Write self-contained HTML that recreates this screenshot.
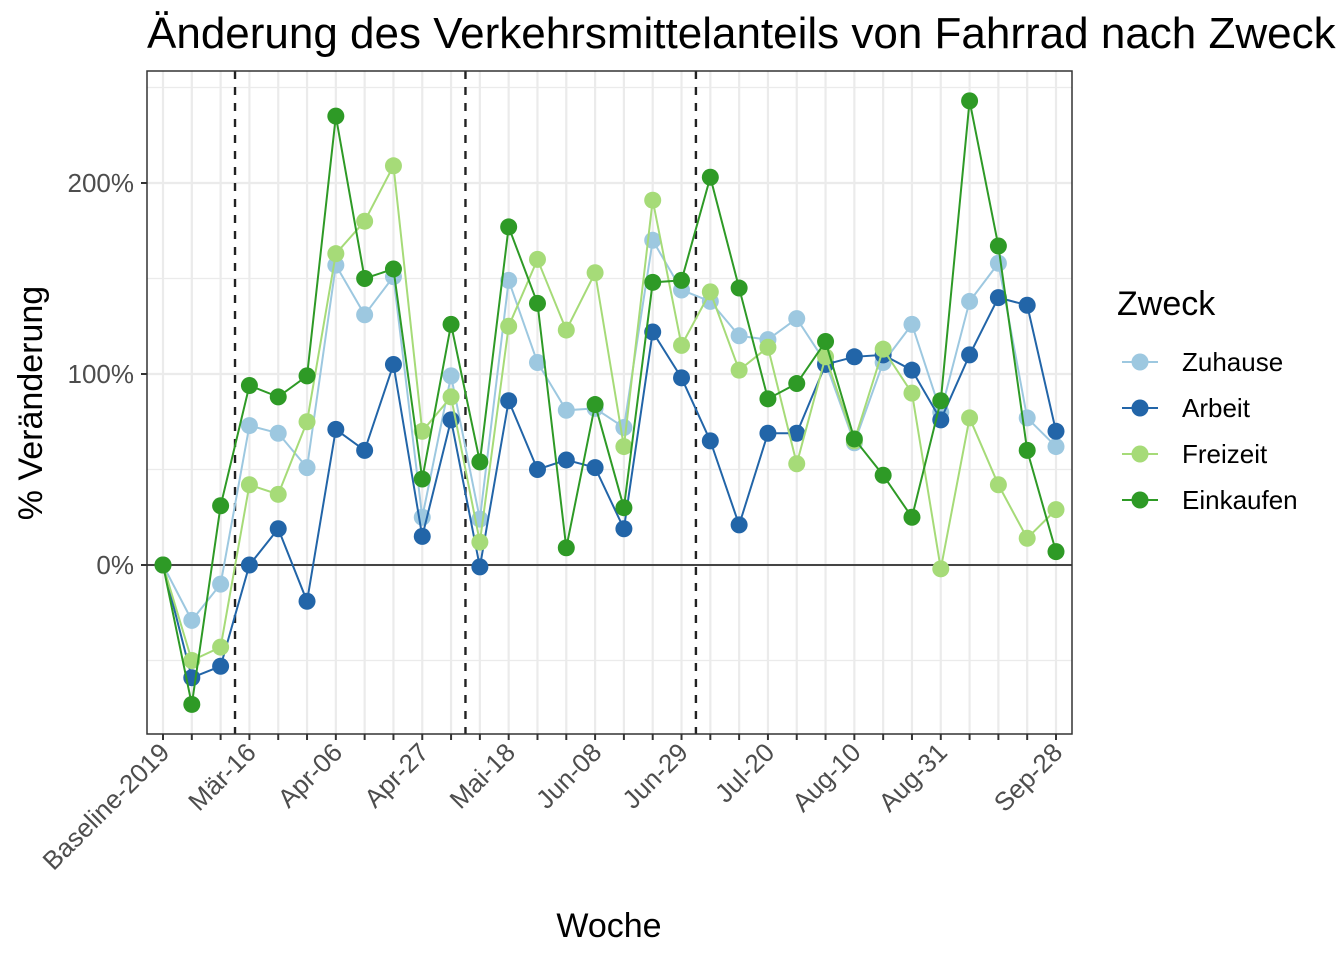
<!DOCTYPE html>
<html><head><meta charset="utf-8"><style>
html,body{margin:0;padding:0;background:#fff;overflow:hidden;}
svg{display:block;font-family:"Liberation Sans",Arial,sans-serif;}
</style></head><body>
<svg id="chart" width="1344" height="960" viewBox="0 0 1344 960">
<text x="147" y="48" font-size="44" fill="#000">Änderung des Verkehrsmittelanteils von Fahrrad nach Zweck</text>
<g id="panel"></g>
<text x="609" y="937" font-size="34" text-anchor="middle" fill="#000">Woche</text>
<text transform="translate(42,403) rotate(-90)" font-size="34" text-anchor="middle" fill="#000">% Veränderung</text>
<g id="legend">
<text x="1117" y="315" font-size="34" fill="#000">Zweck</text>
</g>
</svg>
<script>
const categories = ["Baseline-2019","Mär-02","Mär-09","Mär-16","Mär-23","Mär-30","Apr-06","Apr-13","Apr-20","Apr-27","Mai-04","Mai-11","Mai-18","Mai-25","Jun-01","Jun-08","Jun-15","Jun-22","Jun-29","Jul-06","Jul-13","Jul-20","Jul-27","Aug-03","Aug-10","Aug-17","Aug-24","Aug-31","Sep-07","Sep-14","Sep-21","Sep-28"];
const tickLabelIdx = [0,3,6,9,12,15,18,21,24,27,31];
const seriesNames = ["Zuhause","Arbeit","Freizeit","Einkaufen"];
const zuhause = [0,-29,-10,73,69,51,157,131,151,25,99,24,149,106,81,82,72,170,144,138,120,118,129,106,64,106,126,80,138,158,77,62];
const arbeit = [0,-59,-53,0,19,-19,71,60,105,15,76,-1,86,50,55,51,19,122,98,65,21,69,69,105,109,110,102,76,110,140,136,70];
const freizeit = [0,-50,-43,42,37,75,163,180,209,70,88,12,125,160,123,153,62,191,115,143,102,114,53,109,65,113,90,-2,77,42,14,29];
const einkaufen = [0,-73,31,94,88,99,235,150,155,45,126,54,177,137,9,84,30,148,149,203,145,87,95,117,66,47,25,86,243,167,60,7];
const yTicks = [0,100,200];
const yMinor = [-50,50,150,250];
const phaseBreaks = [2.5,10.5,18.5];
const colors = ["#9dc8e0","#2265a8","#a6db78","#2e9a26"];

const NS="http://www.w3.org/2000/svg";
const L=147,R=1072,T=71,B=734;
const xs=i=>163+i*(1056-163)/31;
const ys=v=>565-v*1.91;
const panel=document.getElementById('panel');
const svg=document.getElementById('chart');
function mk(tag,attrs,parent){const e=document.createElementNS(NS,tag);for(const k in attrs)e.setAttribute(k,attrs[k]);(parent||panel).appendChild(e);return e;}

yMinor.forEach(v=>{const l=mk('line',{x1:L,x2:R,y1:ys(v),y2:ys(v),stroke:'#ebebeb','stroke-width':1.2});

});
yTicks.forEach(v=>{const l=mk('line',{x1:L,x2:R,y1:ys(v),y2:ys(v),stroke:'#ebebeb','stroke-width':2.2});

});
categories.forEach((c,i)=>{const l=mk('line',{x1:xs(i),x2:xs(i),y1:T,y2:B,stroke:'#ebebeb','stroke-width':2.2});

});
const z=mk('line',{x1:L,x2:R,y1:ys(0),y2:ys(0),stroke:'#444','stroke-width':2});


phaseBreaks.forEach(p=>{const l=mk('line',{x1:xs(p),x2:xs(p),y1:T,y2:B,stroke:'#222','stroke-width':2.4,'stroke-dasharray':'8,8'});

});
const data=[zuhause,arbeit,freizeit,einkaufen];
data.forEach((arr,s)=>{
  const g=mk('g',{});
  
  
  const pl=mk('polyline',{points:arr.map((v,i)=>xs(i)+','+ys(v)).join(' '),fill:'none',stroke:colors[s],'stroke-width':2},g);
  
  
  arr.forEach((v,i)=>{const c=mk('circle',{cx:xs(i),cy:ys(v),r:8.5,fill:colors[s]},g);
  
  });
});
const bd=mk('rect',{x:L,y:T,width:R-L,height:B-T,fill:'none',stroke:'#333','stroke-width':1.5});


yTicks.forEach(v=>{const t=mk('line',{x1:L-6,x2:L,y1:ys(v),y2:ys(v),stroke:'#333','stroke-width':2},svg);


const tx=mk('text',{x:L-13,y:ys(v)+9,'font-size':26,'text-anchor':'end',fill:'#4d4d4d'},svg);
tx.textContent=v+'%';

});
categories.forEach((c,i)=>{const t=mk('line',{x1:xs(i),x2:xs(i),y1:B,y2:B+6,stroke:'#333','stroke-width':2},svg);

});
tickLabelIdx.forEach(i=>{const x=xs(i),y=B+20;
const tx=mk('text',{transform:`translate(${x+8},${y}) rotate(-45)`,'font-size':26,'text-anchor':'end',fill:'#4d4d4d'},svg);
tx.textContent=categories[i];

});
const lg=document.getElementById('legend');
seriesNames.forEach((n,s)=>{const y=362+s*46;
const g=mk('g',{},lg);


mk('line',{x1:1122,x2:1158,y1:y,y2:y,stroke:colors[s],'stroke-width':2},g);
mk('circle',{cx:1140,cy:y,r:8.5,fill:colors[s]},g);
const t=mk('text',{x:1182,y:y+9,'font-size':26,fill:'#000'},g);
t.textContent=n;});
</script>
</body></html>
